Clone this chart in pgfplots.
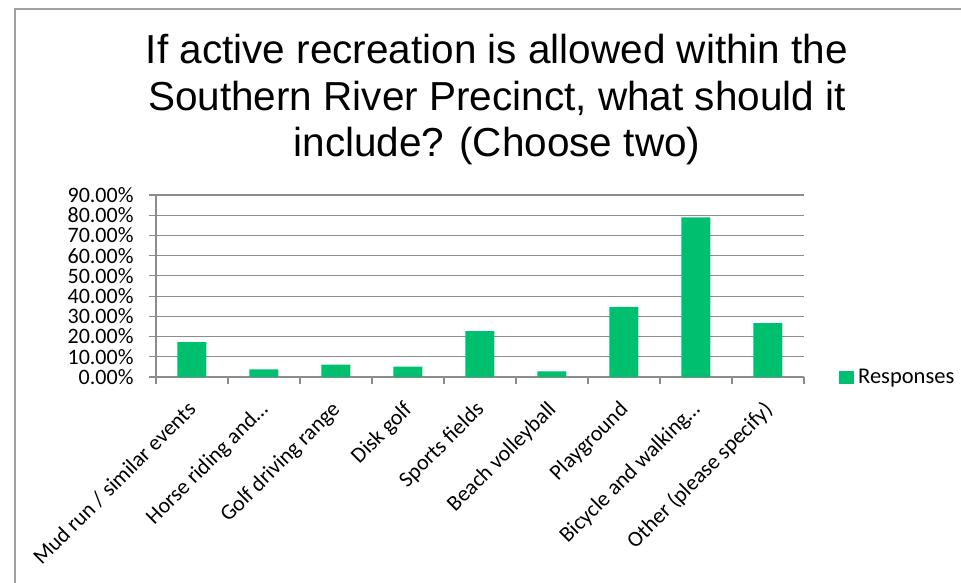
\documentclass[border=0pt]{standalone}
\usepackage{fontspec}
\usepackage{pgfplots}
\pgfplotsset{compat=1.18}
\setmainfont{Carlito}
\newfontfamily\titlefont{Liberation Sans}
\definecolor{smgreen}{HTML}{00BF6F}
\definecolor{gridgray}{HTML}{8C8C8C}
\definecolor{bordergray}{HTML}{A0A0A0}
\begin{document}
\begin{tikzpicture}
\useasboundingbox (0,0) rectangle (961bp,-583bp);
\fill[white] (0,0) rectangle (961bp,-583bp);
\draw[bordergray, line width=2bp] (15bp,-583bp) -- (15bp,-9bp) -- (961bp,-9bp);
\node[anchor=base, inner sep=0pt] at (497bp,-63.3bp) {\titlefont\fontsize{40.5bp}{46.7bp}\selectfont If active recreation is allowed within the};
\node[anchor=base, inner sep=0pt] at (497bp,-110bp) {\titlefont\fontsize{40.5bp}{46.7bp}\selectfont Southern River Precinct, what should it};
\node[anchor=base, inner sep=0pt] at (497bp,-156.7bp) {\titlefont\fontsize{40.5bp}{46.7bp}\selectfont include? (Choose two)};
\begin{axis}[
  at={(156bp,-377bp)}, anchor=south west,
  scale only axis, width=648bp, height=182bp,
  xmin=-0.5, xmax=8.5, ymin=0, ymax=90,
  axis lines*=left,
  axis line style={draw=gridgray, line width=1.2bp, -},
  ymajorgrids, grid style={draw=gridgray, line width=1.2bp},
  tick align=outside, major tick length=7bp,
  tick style={draw=gridgray, line width=1.2bp},
  ytick={0,10,...,90},
  yticklabel={\pgfmathprintnumber[fixed,fixed zerofill,precision=2]{\tick}\%},
  /pgf/number format/assume math mode=true,
  yticklabel style={font=\fontsize{22bp}{22bp}\selectfont, text=black, xshift=-12bp},
  xtick={-0.5,0.5,...,8.5},
  xticklabels={},
  extra x ticks={0,1,2,3,4,5,6,7,8},
  extra x tick style={major tick length=0pt},
  extra x tick labels={Mud run / similar events, Horse riding and…, Golf driving range, Disk golf, Sports fields, Beach volleyball, Playground, Bicycle and walking…, Other (please specify)},
  xticklabel style={font=\fontsize{22bp}{22bp}\selectfont, text=black, anchor=north east, inner sep=0pt, xshift=-5.8bp, yshift=-22.6bp, rotate=45},
  legend style={draw=none, fill=none, at={(1.054,0)}, anchor=west, inner sep=0pt, font=\fontsize{22.5bp}{22.5bp}\selectfont, /tikz/every even column/.append style={column sep=0pt}},
  legend image code/.code={\fill[smgreen] (0bp,-6.5bp) rectangle (15bp,6.5bp);},
]
\addplot[ybar, bar width=29bp, fill=smgreen, draw=none] coordinates {
(0,17.2) (1,3.8) (2,6.1) (3,5.1) (4,22.7) (5,2.8) (6,34.7) (7,79.0) (8,26.7)};
\addlegendentry{\hspace{2bp}Responses}
\end{axis}
\end{tikzpicture}
\end{document}
